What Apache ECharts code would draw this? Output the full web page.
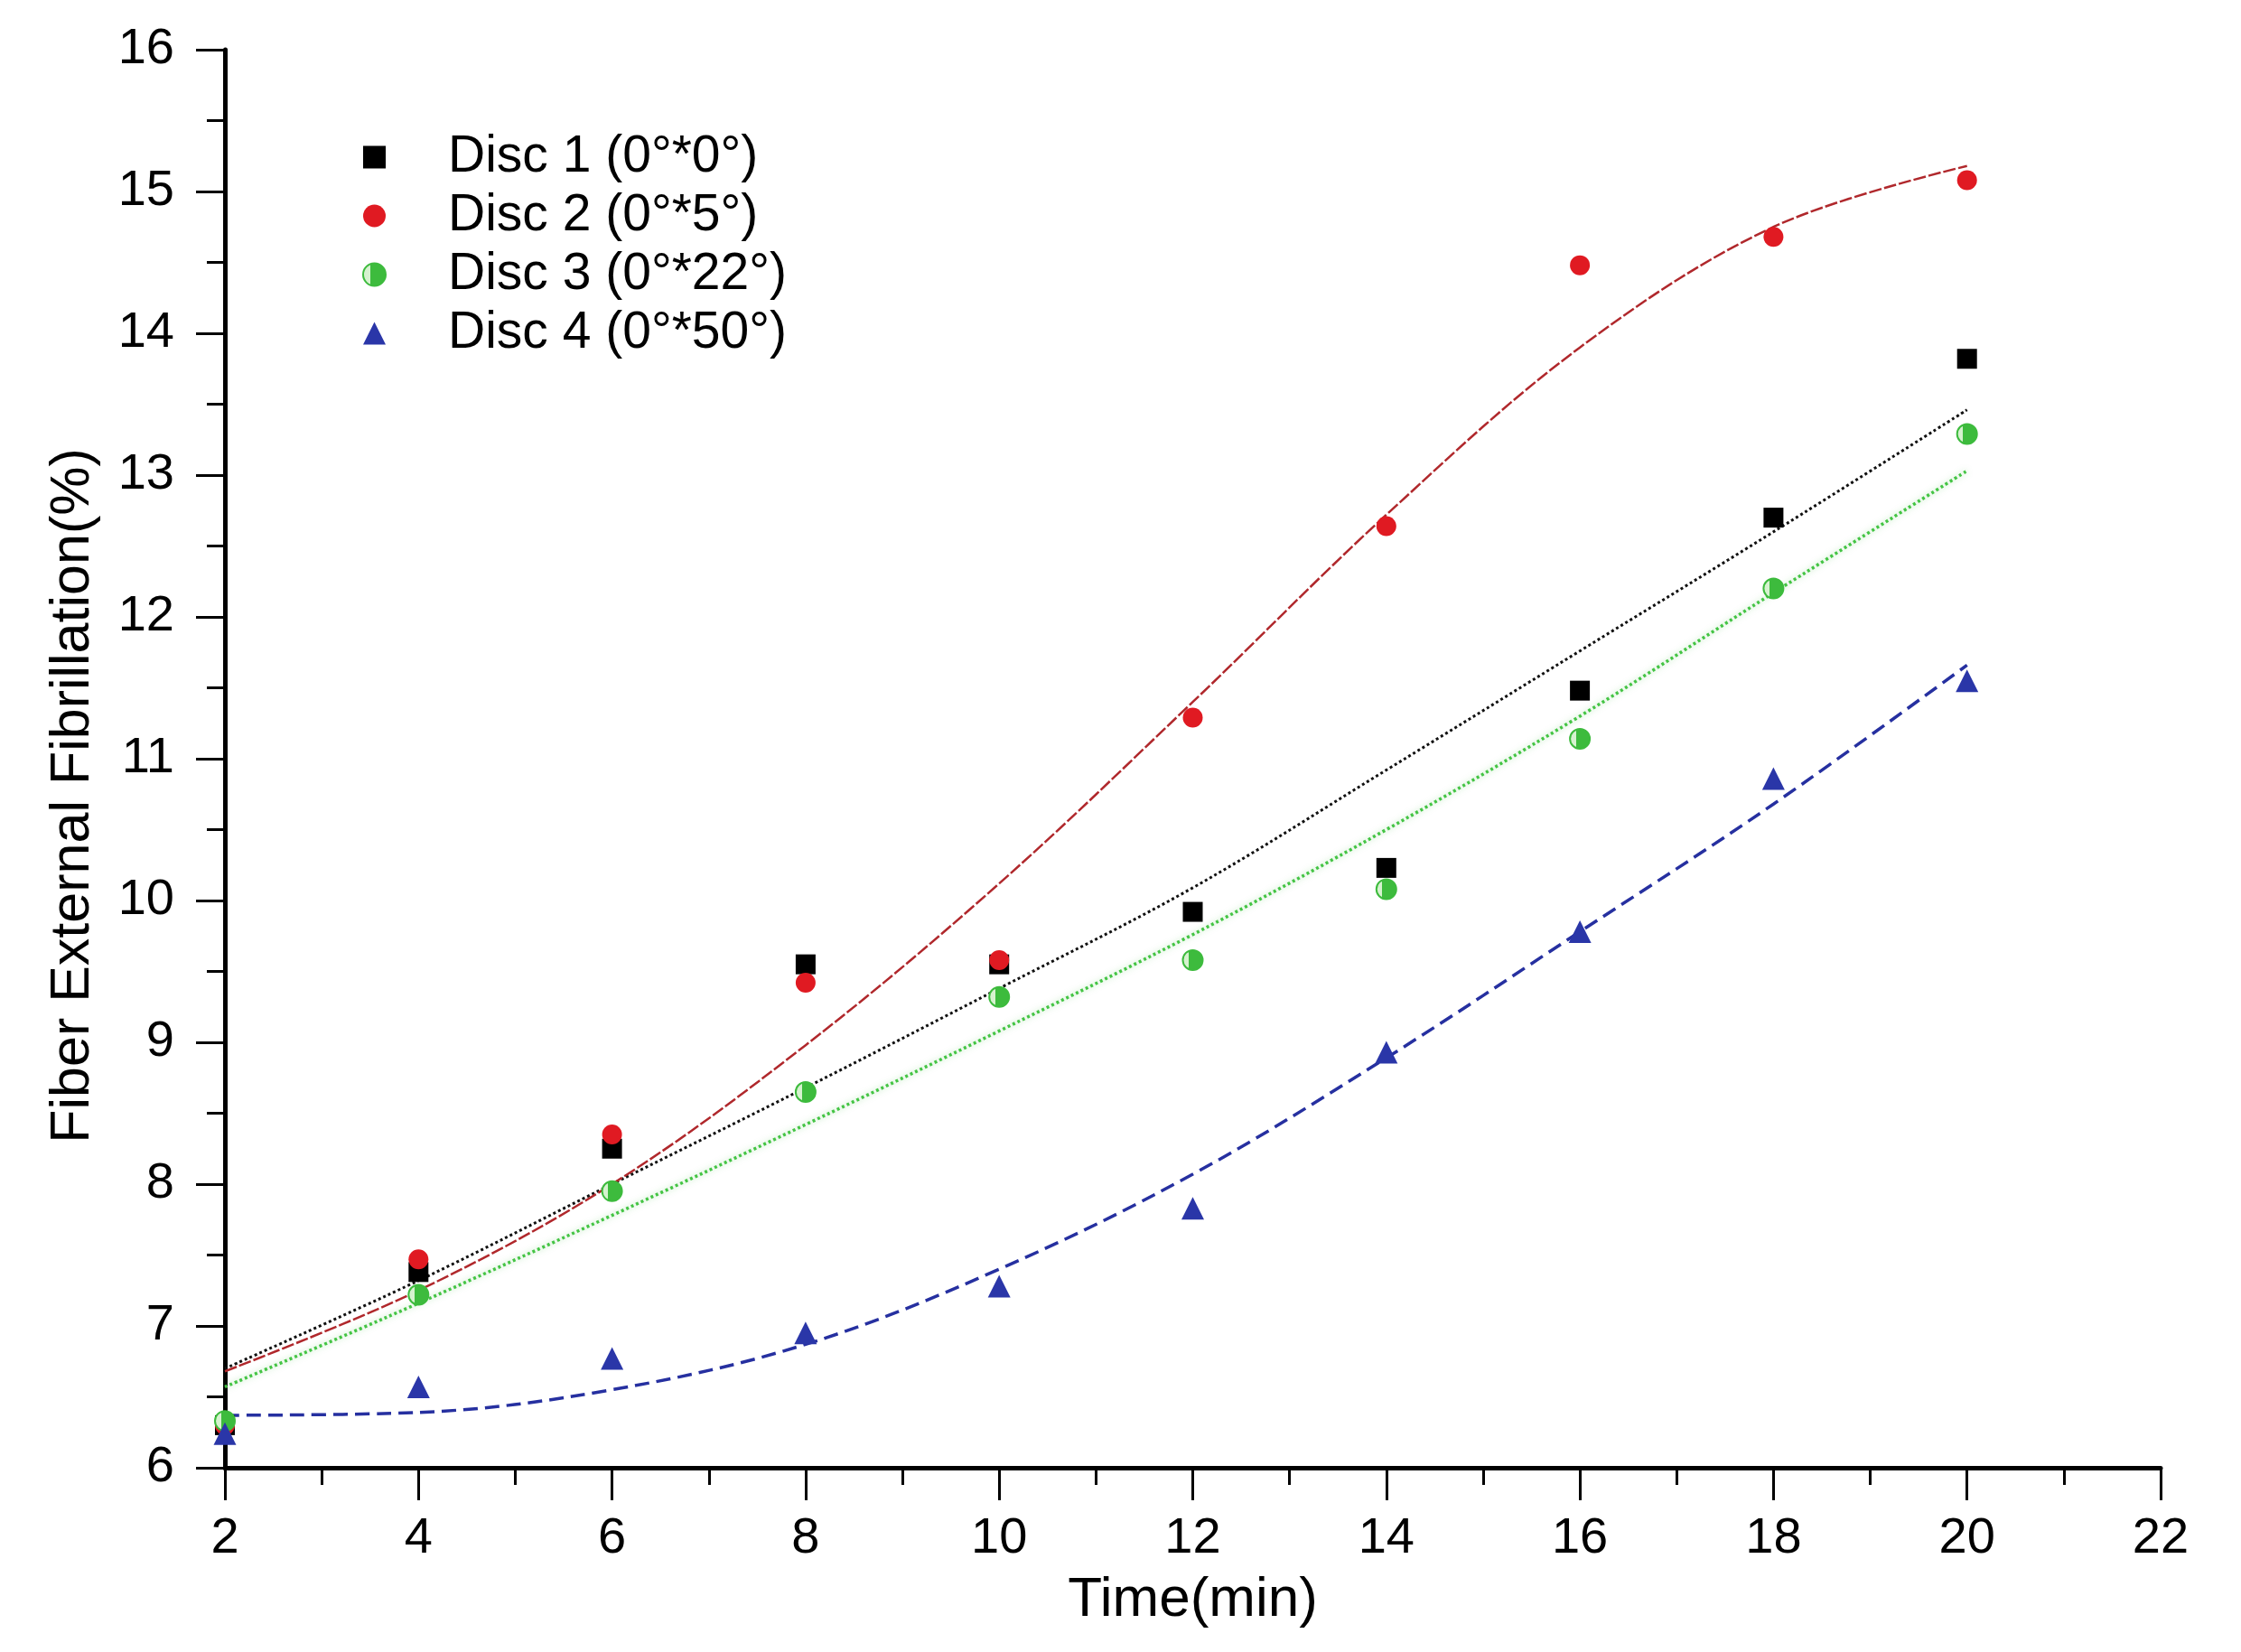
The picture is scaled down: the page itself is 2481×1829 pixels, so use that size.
<!DOCTYPE html>
<html>
<head>
<meta charset="utf-8">
<script src="https://cdn.jsdelivr.net/npm/echarts@6/dist/echarts.min.js"></script>
<style>
html,body{margin:0;padding:0;background:#fff;}
#chart{width:2481px;height:1829px;}
</style>
</head>
<body>
<div id="chart"></div>
<script>
// ---- data ----
const timeMin = [2, 4, 6, 8, 10, 12, 14, 16, 18, 20];
const seriesNames = ['Disc 1 (0°*0°)', 'Disc 2 (0°*5°)', 'Disc 3 (0°*22°)', 'Disc 4 (0°*50°)'];
const disc1 = [6.30, 7.38, 8.25, 9.55, 9.55, 9.92, 10.23, 11.48, 12.70, 13.82];
const disc2 = [6.30, 7.47, 8.35, 9.42, 9.58, 11.29, 12.64, 14.48, 14.68, 15.08];
const disc3 = [6.33, 7.22, 7.95, 8.65, 9.32, 9.58, 10.08, 11.14, 12.20, 13.29];
const disc4 = [6.24, 6.57, 6.77, 6.95, 7.28, 7.83, 8.93, 9.78, 10.86, 11.55];
// fitted curves at each time value
const fit1 = [6.70, 7.32, 8.00, 8.68, 9.38, 10.09, 10.92, 11.76, 12.60, 13.46];
const fit2 = [6.68, 7.25, 8.00, 8.98, 10.12, 11.40, 12.72, 13.90, 14.75, 15.18];
const fit3 = [6.57, 7.16, 7.78, 8.42, 9.08, 9.76, 10.50, 11.30, 12.17, 13.03];
const fit4 = [6.37, 6.39, 6.55, 6.87, 7.40, 8.07, 8.89, 9.78, 10.68, 11.66];
const xTicks = {min: 2, max: 22, interval: 2};
const yTicks = {min: 6, max: 16, interval: 1};

const pairs = arr => timeMin.map((t, i) => [t, arr[i]]);

const chart = echarts.init(document.getElementById('chart'), null, {renderer: 'canvas'});
const FONT = '"Liberation Sans", Arial, sans-serif';

const greenHalf = {
  type: 'linear', x: 0, y: 0, x2: 1, y2: 0,
  colorStops: [
    {offset: 0, color: '#d6f2cf'}, {offset: 0.32, color: '#d6f2cf'},
    {offset: 0.32, color: '#3dbb3d'}, {offset: 1, color: '#3dbb3d'}
  ]
};

const fitLine = (name, data, lineStyle) => ({
  name: name, type: 'line', data: pairs(data), smooth: 0.35,
  showSymbol: false, symbol: 'none', silent: true, z: 2,
  lineStyle: lineStyle
});

chart.setOption({
  backgroundColor: '#ffffff',
  animation: false,
  textStyle: {fontFamily: FONT},
  grid: {left: 249, right: 89, top: 55, bottom: 204, containLabel: false},
  legend: {
    data: seriesNames,
    orient: 'vertical',
    left: 396, top: 139,
    itemWidth: 25, itemHeight: 25, itemGap: 5,
    textStyle: {fontFamily: FONT, fontSize: 57, color: '#000', lineHeight: 60, padding: [0, 0, 0, 64]},
    selectedMode: false
  },
  xAxis: {
    type: 'value', min: xTicks.min, max: xTicks.max, interval: xTicks.interval,
    name: 'Time(min)', nameLocation: 'middle', nameGap: 116,
    nameTextStyle: {fontFamily: FONT, fontSize: 62, color: '#000'},
    axisLine: {show: true, onZero: false, lineStyle: {color: '#000', width: 5}},
    axisTick: {show: true, length: 36, lineStyle: {color: '#000', width: 3}},
    minorTick: {show: true, splitNumber: 2, length: 19, lineStyle: {color: '#000', width: 3}},
    axisLabel: {fontFamily: FONT, fontSize: 56, color: '#000', margin: 51},
    splitLine: {show: false}
  },
  yAxis: {
    type: 'value', min: yTicks.min, max: yTicks.max, interval: yTicks.interval,
    name: 'Fiber External Fibrillation(%)', nameLocation: 'middle', nameGap: 137,
    nameTextStyle: {fontFamily: FONT, fontSize: 61, color: '#000', padding: [0, 82, 0, 0]},
    axisLine: {show: true, onZero: false, lineStyle: {color: '#000', width: 5}},
    axisTick: {show: true, length: 32, lineStyle: {color: '#000', width: 3}},
    minorTick: {show: true, splitNumber: 2, length: 20, lineStyle: {color: '#000', width: 3}},
    axisLabel: {fontFamily: FONT, fontSize: 56, color: '#000', margin: 56},
    splitLine: {show: false}
  },
  series: [
    fitLine('fit1', fit1, {color: '#111111', width: 3, type: [3, 3]}),
    fitLine('fit2', fit2, {color: '#b0282c', width: 2.5, type: [14, 3]}),
    fitLine('fit3', fit3, {color: '#44c444', width: 3.5, type: [3, 3], shadowColor: 'rgba(90,200,90,0.5)', shadowBlur: 6}),
    fitLine('fit4', fit4, {color: '#2630a0', width: 3.5, type: [16, 8]}),
    {name: seriesNames[0], type: 'scatter', data: pairs(disc1), symbol: 'rect', symbolSize: 22, z: 5,
     itemStyle: {color: '#000000', opacity: 1}},
    {name: seriesNames[1], type: 'scatter', data: pairs(disc2), symbol: 'circle', symbolSize: 22, z: 5,
     itemStyle: {color: '#e01a22', opacity: 1}},
    {name: seriesNames[2], type: 'scatter', data: pairs(disc3), symbol: 'circle', symbolSize: 22, z: 5,
     itemStyle: {color: greenHalf, borderColor: '#3dbb3d', borderWidth: 2, opacity: 1}},
    {name: seriesNames[3], type: 'scatter', data: pairs(disc4), symbol: 'triangle', symbolSize: 25, z: 5,
     itemStyle: {color: '#2a36a8', opacity: 1}}
  ]
});
</script>
</body>
</html>
